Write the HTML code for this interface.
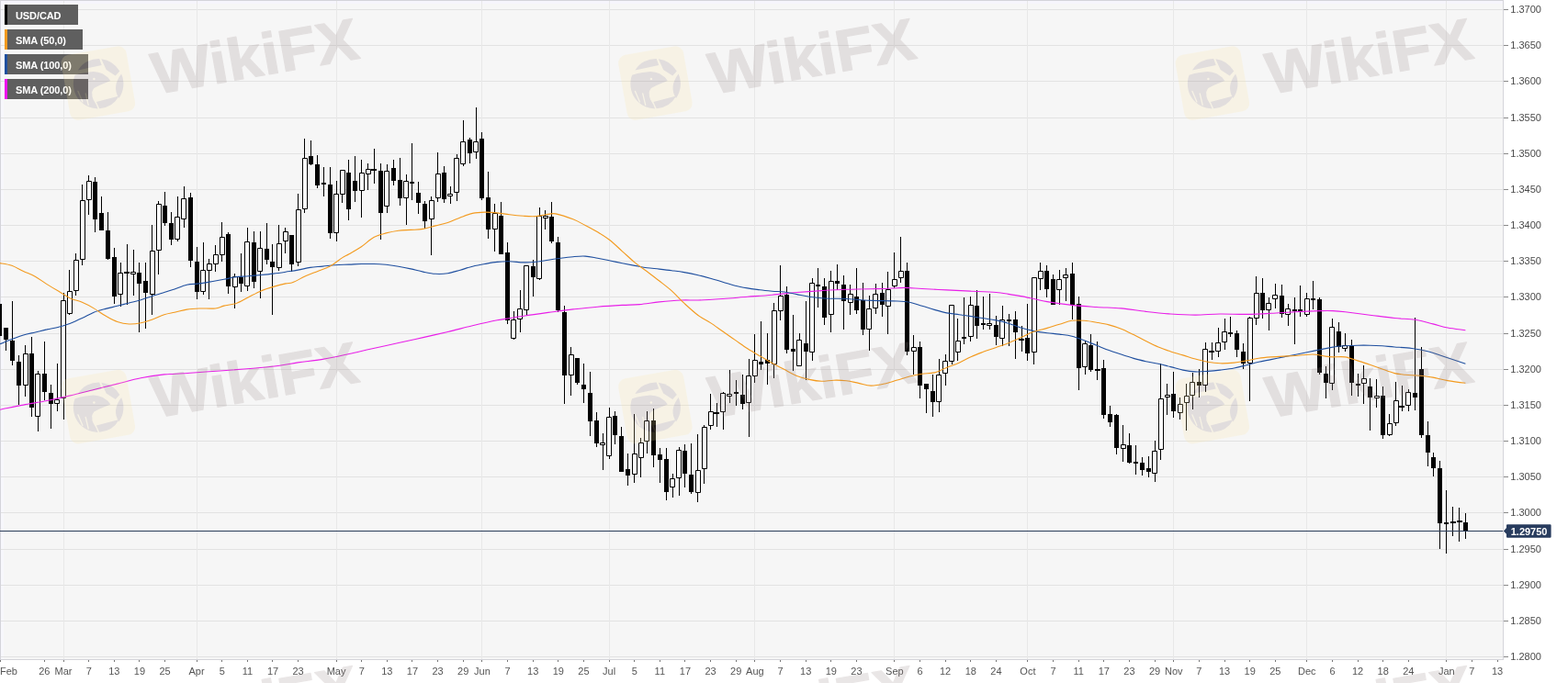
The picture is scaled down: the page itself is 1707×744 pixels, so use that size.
<!DOCTYPE html><html><head><meta charset="utf-8"><title>USD/CAD</title><style>
html,body{margin:0;padding:0;background:#fff;}
body{width:1707px;height:744px;overflow:hidden;position:relative;font-family:"Liberation Sans",Arial,sans-serif;}
svg{position:absolute;left:0;top:0;display:block;}
.lg{position:absolute;left:5px;height:22px;background:#5f5f5f;color:#fff;font:bold 11px/22px "Liberation Sans",Arial,sans-serif;padding:1px 0 0 12px;box-sizing:border-box;letter-spacing:-0.1px;}
.lg i{position:absolute;left:0;top:0;width:3px;height:22px;}
</style></head><body>
<svg width="1707" height="744" viewBox="0 0 1707 744">
<rect x="0" y="0" width="1707" height="744" fill="#ffffff"/>
<rect x="0" y="0" width="1636" height="718" fill="#f6f6f6"/>
<rect x="1" y="1" width="3" height="717" fill="#f7f7fc"/>
<rect x="1" y="1" width="1635" height="3" fill="#f6f5fc"/>
<path d="M0 10.5H1636M0 49.5H1636M0 88.5H1636M0 128.5H1636M0 167.5H1636M0 206.5H1636M0 245.5H1636M0 284.5H1636M0 323.5H1636M0 363.5H1636M0 402.5H1636M0 441.5H1636M0 480.5H1636M0 519.5H1636M0 558.5H1636M0 598.5H1636M0 637.5H1636M0 676.5H1636M0 715.5H1636" stroke="#e2e2e2" stroke-width="1" fill="none"/>
<path d="M69.5 0V718M214.5 0V718M366.5 0V718M524.5 0V718M663.5 0V718M821.5 0V718M973.5 0V718M1118.5 0V718M1277.5 0V718M1422.5 0V718M1574.5 0V718" stroke="#e8e8e8" stroke-width="1" fill="none"/>
<path d="M0 0.5H1636 M0.5 0V718 M1636.5 0V719 M0 718.5H1637" stroke="#d4d4da" stroke-width="1" fill="none"/>
<path d="M-1 313h1v53h-1zM6 357h1v25h-1zM13 328h1v70h-1zM20 387h1v54h-1zM27 376h1v56h-1zM34 367h1v87h-1zM41 404h1v66h-1zM48 372h1v64h-1zM55 419h1v48h-1zM62 396h1v52h-1zM69 319h1v138h-1zM75 294h1v49h-1zM82 276h1v46h-1zM89 201h1v88h-1zM96 191h1v43h-1zM103 193h1v60h-1zM110 214h1v37h-1zM117 231h1v52h-1zM124 270h1v61h-1zM131 286h1v48h-1zM138 266h1v66h-1zM145 272h1v50h-1zM151 286h1v76h-1zM158 286h1v72h-1zM165 245h1v98h-1zM172 219h1v80h-1zM179 209h1v37h-1zM186 231h1v36h-1zM193 214h1v49h-1zM200 203h1v45h-1zM207 210h1v81h-1zM214 269h1v57h-1zM221 264h1v57h-1zM227 282h1v44h-1zM234 267h1v29h-1zM241 242h1v43h-1zM248 253h1v67h-1zM255 298h1v38h-1zM262 276h1v42h-1zM269 248h1v69h-1zM276 252h1v62h-1zM283 252h1v73h-1zM290 243h1v45h-1zM296 266h1v77h-1zM303 245h1v50h-1zM310 248h1v28h-1zM317 256h1v40h-1zM324 211h1v79h-1zM331 151h1v81h-1zM338 153h1v27h-1zM345 169h1v36h-1zM352 182h1v32h-1zM359 182h1v78h-1zM366 197h1v66h-1zM372 185h1v36h-1zM379 174h1v66h-1zM386 170h1v50h-1zM393 174h1v63h-1zM400 178h1v29h-1zM407 162h1v38h-1zM414 178h1v83h-1zM421 179h1v53h-1zM428 174h1v28h-1zM435 172h1v52h-1zM442 190h1v55h-1zM448 156h1v62h-1zM455 198h1v35h-1zM462 219h1v30h-1zM469 214h1v64h-1zM476 166h1v54h-1zM483 181h1v40h-1zM490 203h1v19h-1zM497 168h1v51h-1zM504 131h1v50h-1zM511 150h1v28h-1zM518 117h1v56h-1zM524 144h1v74h-1zM531 187h1v73h-1zM538 222h1v52h-1zM545 220h1v57h-1zM552 264h1v89h-1zM559 339h1v31h-1zM566 316h1v46h-1zM573 289h1v55h-1zM580 283h1v40h-1zM587 226h1v79h-1zM593 229h1v21h-1zM600 220h1v45h-1zM607 258h1v82h-1zM614 333h1v107h-1zM621 378h1v53h-1zM628 390h1v29h-1zM635 396h1v43h-1zM642 405h1v70h-1zM649 449h1v38h-1zM656 472h1v40h-1zM663 444h1v56h-1zM669 448h1v36h-1zM676 465h1v49h-1zM683 494h1v35h-1zM690 451h1v75h-1zM697 477h1v43h-1zM704 448h1v46h-1zM711 445h1v64h-1zM718 488h1v38h-1zM725 488h1v57h-1zM732 516h1v26h-1zM739 487h1v53h-1zM745 484h1v47h-1zM752 483h1v55h-1zM759 473h1v74h-1zM766 463h1v64h-1zM773 429h1v39h-1zM780 439h1v26h-1zM787 427h1v41h-1zM794 403h1v36h-1zM801 414h1v28h-1zM808 408h1v38h-1zM815 391h1v85h-1zM821 364h1v53h-1zM828 350h1v53h-1zM835 363h1v56h-1zM842 330h1v82h-1zM849 289h1v60h-1zM856 312h1v73h-1zM863 343h1v61h-1zM870 363h1v36h-1zM877 328h1v86h-1zM884 303h1v90h-1zM890 292h1v43h-1zM897 303h1v51h-1zM904 295h1v67h-1zM911 288h1v28h-1zM918 300h1v59h-1zM925 310h1v33h-1zM932 292h1v50h-1zM939 308h1v57h-1zM946 322h1v60h-1zM953 309h1v33h-1zM960 308h1v37h-1zM966 296h1v68h-1zM973 275h1v39h-1zM980 258h1v50h-1zM987 286h1v101h-1zM994 365h1v43h-1zM1001 372h1v62h-1zM1008 418h1v32h-1zM1015 408h1v46h-1zM1022 391h1v58h-1zM1029 386h1v34h-1zM1036 332h1v65h-1zM1042 347h1v46h-1zM1049 324h1v51h-1zM1056 323h1v49h-1zM1063 316h1v53h-1zM1070 323h1v36h-1zM1077 320h1v39h-1zM1084 344h1v32h-1zM1091 333h1v44h-1zM1098 342h1v35h-1zM1105 339h1v52h-1zM1112 355h1v28h-1zM1118 331h1v62h-1zM1125 302h1v95h-1zM1132 286h1v30h-1zM1139 289h1v35h-1zM1146 299h1v33h-1zM1153 294h1v38h-1zM1160 292h1v36h-1zM1167 286h1v62h-1zM1174 323h1v102h-1zM1181 371h1v37h-1zM1187 364h1v41h-1zM1194 372h1v42h-1zM1201 392h1v64h-1zM1208 442h1v23h-1zM1215 451h1v44h-1zM1222 463h1v40h-1zM1229 472h1v33h-1zM1236 485h1v32h-1zM1243 498h1v20h-1zM1250 497h1v23h-1zM1257 480h1v45h-1zM1263 396h1v105h-1zM1270 418h1v34h-1zM1277 405h1v50h-1zM1284 433h1v24h-1zM1291 418h1v51h-1zM1298 406h1v40h-1zM1305 402h1v31h-1zM1312 373h1v54h-1zM1319 373h1v19h-1zM1326 357h1v32h-1zM1333 347h1v34h-1zM1339 345h1v22h-1zM1346 360h1v29h-1zM1353 374h1v28h-1zM1360 345h1v92h-1zM1367 301h1v53h-1zM1374 303h1v44h-1zM1381 324h1v36h-1zM1388 309h1v27h-1zM1395 310h1v36h-1zM1402 331h1v24h-1zM1409 324h1v51h-1zM1415 311h1v34h-1zM1422 319h1v26h-1zM1429 306h1v31h-1zM1436 324h1v84h-1zM1443 399h1v35h-1zM1450 347h1v78h-1zM1457 351h1v33h-1zM1464 363h1v20h-1zM1471 370h1v61h-1zM1478 407h1v25h-1zM1484 398h1v42h-1zM1491 412h1v57h-1zM1498 413h1v31h-1zM1505 421h1v57h-1zM1512 451h1v24h-1zM1519 416h1v48h-1zM1526 420h1v28h-1zM1533 424h1v24h-1zM1540 346h1v101h-1zM1547 378h1v99h-1zM1554 459h1v49h-1zM1560 493h1v26h-1zM1567 502h1v96h-1zM1574 534h1v69h-1zM1581 552h1v32h-1zM1588 553h1v37h-1zM1595 559h1v28h-1z" fill="#000"/>
<path d="M-3 331h5v35h-5zM4 357h5v13h-5zM11 371h5v22h-5zM18 394h5v26h-5zM32 385h5v59h-5zM46 407h5v20h-5zM53 428h5v12h-5zM101 198h5v41h-5zM108 232h5v19h-5zM115 251h5v31h-5zM122 280h5v43h-5zM135 296h6v2h-6zM149 297h5v12h-5zM156 306h5v13h-5zM177 224h5v19h-5zM184 243h5v18h-5zM205 215h5v69h-5zM212 285h5v33h-5zM246 255h5v57h-5zM260 302h5v7h-5zM274 264h5v43h-5zM288 271h5v12h-5zM294 285h5v6h-5zM315 256h5v32h-5zM336 170h5v9h-5zM343 179h5v23h-5zM350 199h5v2h-5zM357 201h5v53h-5zM377 188h5v40h-5zM384 197h5v11h-5zM404 184h6v2h-6zM412 186h5v46h-5zM426 183h5v14h-5zM433 196h5v20h-5zM446 198h5v2h-5zM453 210h5v11h-5zM460 222h5v19h-5zM481 188h5v29h-5zM509 152h5v15h-5zM522 151h5v65h-5zM529 215h5v35h-5zM543 235h5v42h-5zM550 275h5v74h-5zM578 290h5v12h-5zM598 236h5v27h-5zM605 264h5v74h-5zM612 340h5v69h-5zM626 390h5v27h-5zM633 419h5v5h-5zM640 428h5v31h-5zM647 458h5v25h-5zM667 453h5v21h-5zM674 475h5v39h-5zM681 511h5v7h-5zM709 458h5v38h-5zM716 495h5v6h-5zM723 500h5v36h-5zM743 491h5v25h-5zM750 517h5v19h-5zM777 449h6v2h-6zM799 427h5v2h-5zM806 430h5v10h-5zM826 394h5v3h-5zM833 392h5v4h-5zM854 321h5v60h-5zM861 380h5v3h-5zM875 374h5v9h-5zM888 310h5v2h-5zM895 312h5v34h-5zM909 306h5v3h-5zM916 310h5v18h-5zM930 323h5v15h-5zM937 327h5v32h-5zM958 319h5v13h-5zM985 295h5v88h-5zM999 378h5v42h-5zM1006 418h5v6h-5zM1013 426h5v12h-5zM1047 367h5v2h-5zM1061 333h5v22h-5zM1068 352h5v2h-5zM1082 354h5v13h-5zM1096 348h5v2h-5zM1103 348h5v14h-5zM1109 369h6v2h-6zM1116 368h5v17h-5zM1137 295h5v20h-5zM1144 304h5v28h-5zM1165 298h5v34h-5zM1172 331h5v70h-5zM1185 376h5v27h-5zM1192 402h6v2h-6zM1199 401h5v51h-5zM1206 451h5v9h-5zM1213 452h5v36h-5zM1227 485h5v19h-5zM1234 503h5v2h-5zM1241 504h5v8h-5zM1248 510h5v4h-5zM1275 429h5v19h-5zM1303 416h5v4h-5zM1316 382h6v2h-6zM1337 362h5v2h-5zM1344 363h5v18h-5zM1351 383h5v13h-5zM1372 319h5v19h-5zM1393 322h5v20h-5zM1407 337h5v2h-5zM1413 337h5v2h-5zM1427 325h5v2h-5zM1434 326h5v80h-5zM1441 407h5v10h-5zM1455 361h5v17h-5zM1469 377h5v40h-5zM1476 418h5v2h-5zM1489 421h5v12h-5zM1503 431h5v43h-5zM1523 442h6v2h-6zM1538 428h5v5h-5zM1545 402h5v72h-5zM1552 474h5v19h-5zM1558 498h5v12h-5zM1565 510h5v60h-5zM1572 569h5v2h-5zM1579 568h6v2h-6zM1586 567h6v2h-6zM1593 569h5v9h-5z" fill="#000"/>
<path d="M25.5 385.5h5v34h-5zM38.5 407.5h5v46h-5zM59.5 435.5h5v4h-5zM66.5 327.5h5v106h-5zM73.5 317.5h5v24h-5zM80.5 283.5h5v33h-5zM87.5 218.5h5v64h-5zM94.5 197.5h5v20h-5zM128.5 297.5h5v23h-5zM142.5 296.5h5v2h-5zM163.5 273.5h5v47h-5zM170.5 222.5h5v50h-5zM190.5 236.5h5v24h-5zM197.5 216.5h5v22h-5zM218.5 294.5h5v23h-5zM225.5 287.5h5v7h-5zM232.5 277.5h5v10h-5zM239.5 258.5h5v19h-5zM253.5 301.5h5v11h-5zM266.5 263.5h5v48h-5zM280.5 270.5h5v25h-5zM301.5 265.5h5v26h-5zM308.5 252.5h5v10h-5zM322.5 228.5h5v57h-5zM329.5 172.5h5v55h-5zM363.5 211.5h5v42h-5zM370.5 185.5h5v26h-5zM391.5 188.5h5v19h-5zM398.5 184.5h5v5h-5zM418.5 186.5h5v38h-5zM439.5 197.5h5v18h-5zM467.5 218.5h5v20h-5zM474.5 189.5h5v26h-5zM487.5 211.5h5v2h-5zM494.5 172.5h5v37h-5zM501.5 154.5h5v24h-5zM515.5 154.5h5v11h-5zM536.5 232.5h5v17h-5zM556.5 348.5h5v20h-5zM563.5 336.5h5v11h-5zM570.5 289.5h5v48h-5zM584.5 235.5h5v68h-5zM591.5 235.5h5v2h-5zM619.5 386.5h5v22h-5zM653.5 482.5h5v2h-5zM660.5 454.5h5v42h-5zM688.5 494.5h5v22h-5zM695.5 482.5h5v16h-5zM701.5 458.5h5v22h-5zM729.5 521.5h5v9h-5zM736.5 490.5h5v30h-5zM757.5 512.5h5v24h-5zM764.5 465.5h5v45h-5zM771.5 448.5h5v15h-5zM784.5 428.5h5v20h-5zM791.5 429.5h5v2h-5zM812.5 409.5h5v29h-5zM819.5 392.5h5v17h-5zM840.5 338.5h5v58h-5zM847.5 322.5h5v16h-5zM867.5 370.5h5v28h-5zM881.5 308.5h5v75h-5zM902.5 306.5h5v36h-5zM923.5 320.5h5v9h-5zM943.5 336.5h5v22h-5zM950.5 320.5h5v15h-5zM964.5 315.5h5v18h-5zM971.5 304.5h5v7h-5zM978.5 295.5h5v7h-5zM992.5 378.5h5v4h-5zM1019.5 408.5h5v29h-5zM1026.5 393.5h5v13h-5zM1033.5 332.5h5v61h-5zM1040.5 371.5h5v12h-5zM1054.5 332.5h5v34h-5zM1074.5 352.5h5v2h-5zM1088.5 348.5h5v20h-5zM1123.5 302.5h5v81h-5zM1130.5 295.5h5v8h-5zM1150.5 304.5h5v11h-5zM1157.5 299.5h5v3h-5zM1178.5 374.5h5v25h-5zM1220.5 484.5h5v4h-5zM1254.5 491.5h5v24h-5zM1261.5 434.5h5v55h-5zM1268.5 430.5h5v2h-5zM1282.5 440.5h5v9h-5zM1289.5 431.5h5v7h-5zM1295.5 416.5h5v14h-5zM1309.5 380.5h5v39h-5zM1323.5 373.5h5v9h-5zM1330.5 361.5h5v11h-5zM1358.5 346.5h5v49h-5zM1365.5 319.5h5v27h-5zM1378.5 330.5h5v7h-5zM1385.5 321.5h5v4h-5zM1399.5 336.5h5v6h-5zM1420.5 325.5h5v17h-5zM1447.5 356.5h5v61h-5zM1461.5 376.5h5v3h-5zM1482.5 412.5h5v5h-5zM1496.5 431.5h5v2h-5zM1510.5 461.5h5v12h-5zM1517.5 436.5h5v24h-5zM1530.5 427.5h5v14h-5z" fill="#fff" stroke="#000" stroke-width="1"/>
<path d="M0.0 446.2C4.2 445.4 17.0 442.7 25.5 441.1C34.0 439.5 42.6 438.2 51.1 436.5C59.6 434.8 68.1 432.9 76.6 430.9C85.1 428.9 93.7 426.6 102.2 424.5C110.7 422.4 119.2 420.2 127.7 418.1C136.2 416.0 144.8 413.5 153.3 411.8C161.8 410.1 171.0 408.8 178.8 407.9C186.6 407.0 181.6 408.0 200.0 406.7C218.4 405.4 268.8 402.0 289.5 400.0C310.2 398.0 314.1 396.3 324.4 394.9C334.7 393.5 342.0 393.0 351.3 391.4C360.6 389.8 371.2 387.4 380.0 385.5C388.8 383.6 395.2 382.0 404.2 380.0C413.2 378.0 424.4 375.6 433.8 373.5C443.2 371.4 451.7 369.6 460.6 367.6C469.6 365.6 478.5 363.6 487.5 361.5C496.5 359.4 505.4 356.8 514.4 354.7C523.4 352.6 534.6 350.1 541.3 348.8C548.0 347.5 549.9 347.5 554.7 346.7C559.5 345.9 563.0 345.2 570.0 344.2C577.0 343.1 587.9 341.6 596.9 340.4C605.9 339.2 614.8 337.9 623.8 336.9C632.8 335.9 641.6 334.9 650.6 334.2C659.6 333.4 669.9 332.8 677.5 332.4C685.1 332.0 689.6 332.2 696.3 331.6C703.0 331.0 710.2 329.7 717.8 328.9C725.4 328.1 735.0 327.3 742.0 327.0C749.0 326.7 752.5 327.2 760.0 327.0C767.5 326.8 777.9 326.1 786.9 325.5C795.9 324.9 804.8 324.0 813.8 323.3C822.8 322.6 831.6 322.0 840.6 321.2C849.6 320.4 858.5 319.3 867.5 318.5C876.5 317.7 885.4 317.1 894.4 316.6C903.4 316.1 912.3 315.6 921.3 315.3C930.3 315.0 941.2 314.8 948.2 314.7C955.2 314.6 957.3 314.7 963.4 314.5C969.5 314.3 978.3 313.4 985.0 313.4C991.7 313.4 996.2 314.1 1003.8 314.5C1011.4 314.9 1021.6 315.4 1030.6 315.9C1039.5 316.3 1048.5 316.8 1057.5 317.2C1066.5 317.6 1077.7 318.0 1084.4 318.5C1091.1 319.0 1093.3 319.7 1097.8 320.4C1102.3 321.1 1106.8 321.8 1111.3 322.6C1115.8 323.4 1119.9 324.3 1124.7 325.3C1129.5 326.3 1133.0 327.4 1140.0 328.6C1147.0 329.8 1157.9 331.4 1166.9 332.4C1175.9 333.4 1184.8 333.9 1193.8 334.5C1202.8 335.1 1211.6 335.1 1220.6 335.9C1229.5 336.7 1238.5 338.4 1247.5 339.4C1256.5 340.4 1265.4 341.4 1274.4 342.0C1283.4 342.6 1292.3 343.1 1301.3 343.1C1310.3 343.1 1318.9 342.1 1328.2 342.0C1337.5 341.9 1347.6 342.5 1356.9 342.4C1366.2 342.3 1374.8 341.8 1383.8 341.3C1392.8 340.9 1401.6 340.1 1410.6 339.7C1419.5 339.2 1430.8 338.8 1437.5 338.6C1444.2 338.4 1446.5 338.4 1451.0 338.6C1455.5 338.8 1457.7 338.9 1464.4 339.7C1471.1 340.5 1482.3 342.1 1491.3 343.2C1500.3 344.3 1510.0 345.6 1518.2 346.5C1526.4 347.4 1533.6 347.2 1540.6 348.3C1547.6 349.4 1554.1 351.4 1560.0 352.9C1565.9 354.3 1570.1 355.9 1576.0 357.0C1581.9 358.1 1592.2 359.2 1595.4 359.7" stroke="#e81ee8" stroke-width="1.1" fill="none" stroke-linejoin="round"/>
<path d="M0.0 374.7C2.1 373.9 8.6 371.2 12.8 369.6C17.1 368.0 21.2 366.3 25.5 365.0C29.8 363.7 34.0 363.0 38.3 362.0C42.6 361.0 46.8 359.8 51.1 358.9C55.4 357.9 59.6 357.4 63.9 356.3C68.1 355.2 72.3 353.8 76.6 352.2C80.8 350.6 85.1 348.6 89.4 346.6C93.7 344.6 98.0 341.9 102.2 340.2C106.5 338.5 110.7 337.5 114.9 336.4C119.2 335.2 123.4 334.4 127.7 333.3C132.0 332.2 136.2 331.1 140.5 330.0C144.8 328.9 149.1 328.0 153.3 326.7C157.6 325.4 161.8 323.8 166.0 322.4C170.2 321.0 174.8 319.7 178.8 318.5C182.8 317.3 185.9 316.4 190.0 315.0C194.1 313.6 198.9 311.2 203.4 310.2C207.9 309.2 212.4 309.5 216.9 308.9C221.4 308.3 225.8 307.5 230.3 306.7C234.8 305.9 239.3 305.1 243.8 304.3C248.3 303.5 252.7 302.2 257.2 301.6C261.7 301.0 266.1 301.2 270.6 300.8C275.1 300.4 279.6 299.9 284.1 299.5C288.6 299.1 293.0 298.7 297.5 298.1C302.0 297.6 306.5 296.9 311.0 296.2C315.5 295.5 319.9 294.9 324.4 294.1C328.9 293.3 333.3 292.1 337.8 291.4C342.3 290.7 346.8 290.6 351.3 290.1C355.8 289.7 359.9 289.0 364.7 288.7C369.5 288.4 375.2 288.3 380.0 288.1C384.8 287.9 388.9 287.6 393.4 287.5C397.9 287.4 402.4 287.4 406.9 287.5C411.4 287.6 415.8 287.9 420.3 288.3C424.8 288.8 429.3 289.4 433.8 290.2C438.3 291.0 442.7 291.9 447.2 292.9C451.7 293.9 456.1 295.2 460.6 296.1C465.1 297.0 469.6 298.0 474.1 298.3C478.6 298.6 483.0 298.4 487.5 297.7C492.0 297.0 496.5 295.4 501.0 294.2C505.5 292.9 509.9 291.3 514.4 290.2C518.9 289.1 523.3 288.3 527.8 287.5C532.3 286.7 536.8 285.8 541.3 285.4C545.8 284.9 549.9 284.7 554.7 284.8C559.5 284.9 565.2 285.8 570.0 285.9C574.8 286.0 578.9 285.8 583.4 285.3C587.9 284.9 592.4 283.9 596.9 283.2C601.4 282.5 605.8 281.9 610.3 281.3C614.8 280.7 619.3 280.1 623.8 279.7C628.3 279.3 632.7 278.8 637.2 279.1C641.7 279.4 646.1 280.5 650.6 281.3C655.1 282.1 659.6 283.1 664.1 284.0C668.6 284.9 673.0 285.8 677.5 286.7C682.0 287.6 686.5 288.5 691.0 289.4C695.5 290.2 699.9 291.2 704.4 291.8C708.9 292.4 713.3 292.6 717.8 293.1C722.3 293.6 726.8 294.1 731.3 294.7C735.8 295.3 739.9 295.8 744.7 296.6C749.5 297.4 755.2 298.6 760.0 299.7C764.8 300.8 768.9 301.9 773.4 303.2C777.9 304.4 782.4 305.9 786.9 307.2C791.4 308.5 795.8 310.1 800.3 311.2C804.8 312.3 809.3 313.1 813.8 313.9C818.3 314.7 822.7 315.2 827.2 315.8C831.7 316.4 836.1 316.8 840.6 317.2C845.1 317.6 849.6 317.4 854.1 318.0C858.6 318.6 863.0 319.7 867.5 320.6C872.0 321.5 876.5 322.6 881.0 323.3C885.5 324.0 889.9 324.4 894.4 324.7C898.9 325.0 903.3 325.1 907.8 325.2C912.3 325.3 916.8 325.3 921.3 325.5C925.8 325.7 929.9 326.3 934.7 326.6C939.5 326.9 943.0 327.2 950.0 327.4C957.0 327.6 970.2 327.7 976.9 328.0C983.6 328.3 985.8 328.4 990.3 329.3C994.8 330.2 999.3 332.0 1003.8 333.3C1008.3 334.6 1012.7 336.1 1017.2 337.4C1021.7 338.7 1026.1 340.0 1030.6 340.9C1035.1 341.8 1039.6 342.1 1044.1 342.7C1048.6 343.3 1053.0 343.9 1057.5 344.6C1062.0 345.3 1066.5 346.1 1071.0 346.8C1075.5 347.5 1079.9 348.0 1084.4 348.9C1088.9 349.8 1093.3 350.8 1097.8 352.2C1102.3 353.6 1106.8 355.6 1111.3 357.0C1115.8 358.4 1119.9 359.4 1124.7 360.4C1129.5 361.3 1135.2 362.1 1140.0 362.7C1144.8 363.3 1148.9 363.5 1153.4 364.1C1157.9 364.7 1162.4 365.1 1166.9 366.2C1171.4 367.3 1175.8 369.1 1180.3 370.8C1184.8 372.5 1189.3 374.4 1193.8 376.2C1198.3 378.0 1202.7 380.0 1207.2 381.6C1211.7 383.2 1216.1 384.6 1220.6 386.1C1225.1 387.6 1229.6 389.1 1234.1 390.4C1238.6 391.7 1243.0 392.7 1247.5 393.7C1252.0 394.7 1256.5 395.3 1261.0 396.3C1265.5 397.3 1269.9 398.5 1274.4 399.6C1278.9 400.7 1283.3 402.2 1287.8 403.1C1292.3 404.0 1296.8 404.7 1301.3 404.9C1305.8 405.1 1310.2 404.7 1314.7 404.4C1319.2 404.1 1323.4 403.7 1328.2 403.1C1333.0 402.5 1338.6 401.9 1343.4 401.0C1348.2 400.1 1352.4 398.8 1356.9 397.7C1361.4 396.6 1365.8 395.2 1370.3 394.2C1374.8 393.2 1379.3 392.5 1383.8 391.6C1388.3 390.7 1392.7 389.8 1397.2 388.9C1401.7 388.0 1406.1 387.1 1410.6 386.2C1415.1 385.3 1419.6 384.4 1424.1 383.5C1428.6 382.6 1433.0 381.7 1437.5 380.8C1442.0 379.9 1446.5 378.8 1451.0 378.1C1455.5 377.4 1459.9 377.1 1464.4 376.8C1468.9 376.5 1473.3 376.3 1477.8 376.2C1482.3 376.1 1486.8 376.1 1491.3 376.2C1495.8 376.3 1500.2 376.5 1504.7 376.8C1509.2 377.1 1512.8 377.6 1518.2 378.0C1523.6 378.4 1530.9 378.7 1537.1 379.5C1543.3 380.3 1549.7 381.5 1555.4 383.0C1561.1 384.5 1564.7 386.1 1571.4 388.3C1578.1 390.5 1591.4 395.0 1595.4 396.3" stroke="#1f4f9f" stroke-width="1.1" fill="none" stroke-linejoin="round"/>
<path d="M0.0 286.6C2.1 287.0 8.6 287.7 12.8 289.2C17.1 290.7 21.2 293.5 25.5 295.5C29.8 297.5 34.0 298.8 38.3 301.2C42.6 303.6 46.8 306.9 51.1 309.6C55.4 312.3 59.6 314.8 63.9 317.3C68.1 319.9 72.3 322.9 76.6 324.9C80.8 326.9 85.1 327.5 89.4 329.3C93.7 331.1 98.0 333.4 102.2 335.9C106.5 338.4 110.7 341.7 114.9 344.1C119.2 346.5 123.4 349.0 127.7 350.5C132.0 352.0 136.2 352.8 140.5 353.0C144.8 353.2 149.1 352.6 153.3 351.7C157.6 350.8 161.8 349.4 166.0 347.9C170.2 346.4 174.8 344.1 178.8 342.8C182.8 341.5 185.9 341.2 190.0 340.3C194.1 339.4 198.9 337.8 203.4 337.1C207.9 336.4 211.7 336.2 216.9 336.0C222.1 335.8 229.9 336.5 234.4 336.0C238.9 335.5 240.0 334.0 243.8 333.1C247.6 332.2 252.7 332.0 257.2 330.4C261.7 328.8 266.1 325.9 270.6 323.7C275.1 321.4 279.6 318.8 284.1 316.9C288.6 315.0 293.0 313.7 297.5 312.4C302.0 311.1 307.4 309.7 311.0 308.9C314.6 308.1 315.4 308.9 319.0 307.5C322.6 306.1 328.0 302.8 332.5 300.8C337.0 298.8 341.4 297.2 345.9 295.4C350.4 293.6 354.9 292.5 359.4 290.0C363.9 287.5 369.4 282.8 372.8 280.6C376.2 278.4 376.6 278.8 380.0 276.8C383.4 274.8 388.9 271.8 393.4 268.7C397.9 265.6 402.4 261.0 406.9 258.5C411.4 256.0 415.8 255.1 420.3 253.9C424.8 252.7 429.3 251.8 433.8 251.2C438.3 250.6 442.7 250.7 447.2 250.4C451.7 250.1 456.1 250.2 460.6 249.4C465.1 248.7 469.6 247.1 474.1 245.9C478.6 244.7 483.0 243.9 487.5 242.4C492.0 240.9 496.5 238.7 501.0 237.0C505.5 235.3 509.9 233.4 514.4 232.4C518.9 231.4 523.3 231.2 527.8 231.1C532.3 231.0 536.8 231.4 541.3 231.9C545.8 232.4 549.9 233.2 554.7 233.8C559.5 234.4 565.2 235.0 570.0 235.3C574.8 235.6 578.9 235.9 583.4 235.6C587.9 235.3 593.3 233.8 596.9 233.4C600.5 233.0 600.4 232.0 604.9 232.9C609.4 233.8 618.4 236.7 623.8 238.8C629.2 240.9 632.7 243.2 637.2 245.5C641.7 247.8 646.1 250.1 650.6 252.8C655.1 255.5 659.6 258.2 664.1 261.7C668.6 265.2 673.0 269.8 677.5 273.8C682.0 277.8 686.5 282.2 691.0 285.9C695.5 289.6 699.9 292.4 704.4 295.8C708.9 299.2 713.3 302.5 717.8 306.0C722.3 309.5 726.8 312.8 731.3 316.8C735.8 320.8 739.9 325.8 744.7 330.2C749.5 334.6 755.2 339.9 760.0 343.5C764.8 347.1 768.9 348.7 773.4 351.6C777.9 354.5 782.4 357.9 786.9 361.0C791.4 364.1 795.8 367.3 800.3 370.4C804.8 373.5 809.3 376.9 813.8 379.8C818.3 382.7 822.7 385.2 827.2 387.8C831.7 390.4 836.1 392.9 840.6 395.4C845.1 397.9 849.6 400.3 854.1 402.6C858.6 404.9 863.0 407.6 867.5 409.4C872.0 411.2 876.5 412.4 881.0 413.4C885.5 414.4 889.9 415.2 894.4 415.3C898.9 415.4 903.3 414.3 907.8 414.2C912.3 414.1 916.8 414.2 921.3 414.7C925.8 415.2 930.2 416.5 934.7 417.4C939.2 418.3 943.4 420.0 948.2 420.1C953.0 420.2 958.6 419.0 963.4 418.0C968.2 417.0 972.4 415.3 976.9 414.0C981.4 412.7 985.8 411.1 990.3 410.0C994.8 408.9 999.3 408.0 1003.8 407.3C1008.3 406.6 1012.7 407.0 1017.2 405.9C1021.7 404.8 1026.1 402.3 1030.6 400.5C1035.1 398.7 1039.6 397.2 1044.1 395.2C1048.6 393.2 1053.0 390.4 1057.5 388.4C1062.0 386.4 1066.5 384.8 1071.0 383.1C1075.5 381.5 1079.9 380.1 1084.4 378.5C1088.9 376.9 1093.3 375.5 1097.8 373.7C1102.3 371.9 1106.8 369.7 1111.3 367.7C1115.8 365.7 1119.9 363.3 1124.7 361.6C1129.5 359.9 1135.2 358.8 1140.0 357.4C1144.8 356.0 1148.9 354.6 1153.4 353.3C1157.9 352.0 1162.4 350.0 1166.9 349.3C1171.4 348.6 1175.8 349.0 1180.3 349.3C1184.8 349.6 1189.3 350.4 1193.8 351.2C1198.3 352.0 1202.7 352.7 1207.2 353.9C1211.7 355.1 1216.1 356.4 1220.6 358.2C1225.1 360.0 1229.6 362.4 1234.1 364.6C1238.6 366.8 1243.0 369.4 1247.5 371.6C1252.0 373.9 1256.5 376.2 1261.0 378.1C1265.5 380.0 1269.9 381.4 1274.4 382.9C1278.9 384.4 1283.3 385.5 1287.8 386.9C1292.3 388.2 1296.8 389.8 1301.3 391.0C1305.8 392.2 1310.2 393.4 1314.7 394.2C1319.2 395.0 1323.4 395.6 1328.2 395.8C1333.0 396.0 1338.6 395.6 1343.4 395.1C1348.2 394.6 1352.4 393.7 1356.9 392.9C1361.4 392.1 1365.8 390.9 1370.3 390.2C1374.8 389.5 1379.3 389.2 1383.8 388.9C1388.3 388.5 1392.7 388.3 1397.2 388.1C1401.7 387.9 1406.1 387.8 1410.6 387.5C1415.1 387.2 1420.5 386.4 1424.1 386.2C1427.7 386.0 1429.1 385.9 1432.2 386.2C1435.3 386.5 1439.8 387.7 1442.9 388.1C1446.0 388.6 1447.4 388.8 1451.0 388.9C1454.6 389.0 1459.9 388.2 1464.4 388.9C1468.9 389.6 1473.3 391.5 1477.8 392.9C1482.3 394.3 1486.8 395.7 1491.3 397.2C1495.8 398.7 1500.2 400.4 1504.7 402.0C1509.2 403.6 1514.0 405.6 1518.2 406.6C1522.4 407.6 1526.5 407.8 1530.0 408.2C1533.5 408.6 1536.3 408.7 1539.4 408.9C1542.5 409.1 1545.2 409.1 1548.6 409.5C1552.0 409.9 1555.4 410.2 1560.0 411.1C1564.6 412.0 1570.1 413.6 1576.0 414.6C1581.9 415.6 1592.2 416.9 1595.4 417.3" stroke="#f39a1e" stroke-width="1.1" fill="none" stroke-linejoin="round"/>
<path d="M0 578.5H1636" stroke="#2b3d5a" stroke-width="1"/>
<path d="M1637 10.5H1642M1637 49.5H1642M1637 88.5H1642M1637 128.5H1642M1637 167.5H1642M1637 206.5H1642M1637 245.5H1642M1637 284.5H1642M1637 323.5H1642M1637 363.5H1642M1637 402.5H1642M1637 441.5H1642M1637 480.5H1642M1637 519.5H1642M1637 558.5H1642M1637 598.5H1642M1637 637.5H1642M1637 676.5H1642M1637 715.5H1642" stroke="#888" stroke-width="1"/>
<g font-family="Liberation Sans, Arial, sans-serif" font-size="11" fill="#4a4a4a"><text x="1644.3" y="13.8">1.3700</text><text x="1644.3" y="52.8">1.3650</text><text x="1644.3" y="91.8">1.3600</text><text x="1644.3" y="131.8">1.3550</text><text x="1644.3" y="170.8">1.3500</text><text x="1644.3" y="209.8">1.3450</text><text x="1644.3" y="248.8">1.3400</text><text x="1644.3" y="287.8">1.3350</text><text x="1644.3" y="326.8">1.3300</text><text x="1644.3" y="366.8">1.3250</text><text x="1644.3" y="405.8">1.3200</text><text x="1644.3" y="444.8">1.3150</text><text x="1644.3" y="483.8">1.3100</text><text x="1644.3" y="522.8">1.3050</text><text x="1644.3" y="561.8">1.3000</text><text x="1644.3" y="601.8">1.2950</text><text x="1644.3" y="640.8">1.2900</text><text x="1644.3" y="679.8">1.2850</text><text x="1644.3" y="718.8">1.2800</text></g>
<path d="M0.5 719V721M48.5 719V721M69.5 719V721M96.5 719V721M124.5 719V721M151.5 719V721M179.5 719V721M214.5 719V721M241.5 719V721M269.5 719V721M296.5 719V721M324.5 719V721M366.5 719V721M393.5 719V721M421.5 719V721M448.5 719V721M476.5 719V721M504.5 719V721M524.5 719V721M552.5 719V721M580.5 719V721M607.5 719V721M635.5 719V721M663.5 719V721M690.5 719V721M718.5 719V721M745.5 719V721M773.5 719V721M801.5 719V721M821.5 719V721M849.5 719V721M877.5 719V721M904.5 719V721M932.5 719V721M973.5 719V721M1001.5 719V721M1029.5 719V721M1056.5 719V721M1084.5 719V721M1118.5 719V721M1146.5 719V721M1174.5 719V721M1201.5 719V721M1229.5 719V721M1257.5 719V721M1277.5 719V721M1305.5 719V721M1333.5 719V721M1360.5 719V721M1388.5 719V721M1422.5 719V721M1450.5 719V721M1478.5 719V721M1505.5 719V721M1533.5 719V721M1574.5 719V721M1602.5 719V721M1630.5 719V721" stroke="#777" stroke-width="1"/>
<g font-family="Liberation Sans, Arial, sans-serif" font-size="11" fill="#555"><text x="0.0" y="735" text-anchor="start">Feb</text><text x="48.3" y="735" text-anchor="middle">26</text><text x="69.0" y="735" text-anchor="middle">Mar</text><text x="96.7" y="735" text-anchor="middle">7</text><text x="124.3" y="735" text-anchor="middle">13</text><text x="151.9" y="735" text-anchor="middle">19</text><text x="179.6" y="735" text-anchor="middle">25</text><text x="214.1" y="735" text-anchor="middle">Apr</text><text x="241.7" y="735" text-anchor="middle">5</text><text x="269.4" y="735" text-anchor="middle">11</text><text x="297.0" y="735" text-anchor="middle">17</text><text x="324.6" y="735" text-anchor="middle">23</text><text x="366.1" y="735" text-anchor="middle">May</text><text x="393.7" y="735" text-anchor="middle">7</text><text x="421.3" y="735" text-anchor="middle">13</text><text x="448.9" y="735" text-anchor="middle">17</text><text x="476.6" y="735" text-anchor="middle">23</text><text x="504.2" y="735" text-anchor="middle">29</text><text x="524.9" y="735" text-anchor="middle">Jun</text><text x="552.5" y="735" text-anchor="middle">7</text><text x="580.2" y="735" text-anchor="middle">13</text><text x="607.8" y="735" text-anchor="middle">19</text><text x="635.4" y="735" text-anchor="middle">25</text><text x="663.1" y="735" text-anchor="middle">Jul</text><text x="690.7" y="735" text-anchor="middle">5</text><text x="718.3" y="735" text-anchor="middle">11</text><text x="745.9" y="735" text-anchor="middle">17</text><text x="773.6" y="735" text-anchor="middle">23</text><text x="801.2" y="735" text-anchor="middle">29</text><text x="821.9" y="735" text-anchor="middle">Aug</text><text x="849.5" y="735" text-anchor="middle">7</text><text x="877.2" y="735" text-anchor="middle">13</text><text x="904.8" y="735" text-anchor="middle">19</text><text x="932.4" y="735" text-anchor="middle">23</text><text x="973.9" y="735" text-anchor="middle">Sep</text><text x="1001.5" y="735" text-anchor="middle">6</text><text x="1029.1" y="735" text-anchor="middle">12</text><text x="1056.8" y="735" text-anchor="middle">18</text><text x="1084.4" y="735" text-anchor="middle">24</text><text x="1118.9" y="735" text-anchor="middle">Oct</text><text x="1146.5" y="735" text-anchor="middle">7</text><text x="1174.2" y="735" text-anchor="middle">11</text><text x="1201.8" y="735" text-anchor="middle">17</text><text x="1229.4" y="735" text-anchor="middle">23</text><text x="1257.1" y="735" text-anchor="middle">29</text><text x="1277.8" y="735" text-anchor="middle">Nov</text><text x="1305.4" y="735" text-anchor="middle">7</text><text x="1333.0" y="735" text-anchor="middle">13</text><text x="1360.7" y="735" text-anchor="middle">19</text><text x="1388.3" y="735" text-anchor="middle">25</text><text x="1422.8" y="735" text-anchor="middle">Dec</text><text x="1450.5" y="735" text-anchor="middle">6</text><text x="1478.1" y="735" text-anchor="middle">12</text><text x="1505.7" y="735" text-anchor="middle">18</text><text x="1533.3" y="735" text-anchor="middle">24</text><text x="1574.8" y="735" text-anchor="middle">Jan</text><text x="1602.4" y="735" text-anchor="middle">7</text><text x="1630.0" y="735" text-anchor="middle">13</text></g>
<path d="M1636.8 578.4L1640 575V572.2Q1640 571.2 1641 571.2H1687.6Q1688.6 571.2 1688.6 572.2V584.8Q1688.6 585.8 1687.6 585.8H1641Q1640 585.8 1640 584.8V581.8Z" fill="#283c5e"/>
<text x="1664.6" y="582.6" text-anchor="middle" font-family="Liberation Sans, Arial, sans-serif" font-size="11" font-weight="bold" fill="#fff">1.29750</text>
</svg>
<div class="lg" style="top:5px;width:80px"><i style="background:#000"></i>USD/CAD</div>
<div class="lg" style="top:32px;width:85px"><i style="background:#f39a1e"></i>SMA (50,0)</div>
<div class="lg" style="top:59px;width:91px"><i style="background:#1f4f9f"></i>SMA (100,0)</div>
<div class="lg" style="top:86px;width:91px"><i style="background:#ee11ee"></i>SMA (200,0)</div>
<svg width="1707" height="744" viewBox="0 0 1707 744" style="pointer-events:none">
<g transform="translate(106.9 90.6)" opacity="0.2"><rect x="-36" y="-36" width="72" height="72" rx="9" fill="#fbe7a6" transform="rotate(-10)"/><g transform="translate(0.5 0.8)" fill="#927b7b"><path d="M-22.5 -15 A27 27 0 0 1 0.8 -27.5 L3.3 -20.4 Z"/><path d="M2.9 -27.2 A27 27 0 0 1 22.9 -13.8 L18.3 -8.8 L8.3 -15.4 Z"/><path d="M24.7 -11 A27 27 0 0 1 22.1 15.5 Q14 3 24.7 -11 Z"/><path d="M-2.5 19.6 L22.3 13.2 A26.5 26.5 0 0 1 0.8 26.9 Z"/><path d="M-25.8 -9.6 Q-20 -12 -14.2 -12.5 L-5.8 -13.3 Q0 -13 4.2 -11.2 L10 -7.1 L12.9 -3.3 L6.7 -0.8 L0.8 1.7 L-5 4.6 Q-8 9 -7.1 10.4 Q-7.5 14 -5.8 17.1 L-2.5 22.9 L-0.8 27 A27 27 0 0 1 -25.8 -9.6 Z"/></g><path transform="translate(0.5 0.8)" d="M-22.5 7.9 L-17.5 19.6 M-14.2 10.4 L-11.2 22.9" stroke="#fbe7a6" fill="none" stroke-linecap="round" stroke-width="1.3"/><circle cx="-4.5" cy="-4.6" r="1.2" fill="#fbe7a6"/><text transform="rotate(-10)" x="59.5" y="22.8" font-family="Liberation Sans, Arial, sans-serif" font-weight="bold" font-size="64" fill="#978686" stroke="#978686" stroke-width="1.2" stroke-linejoin="round" textLength="227" lengthAdjust="spacingAndGlyphs">WikiFX</text></g><g transform="translate(713.4 90.6)" opacity="0.2"><rect x="-36" y="-36" width="72" height="72" rx="9" fill="#fbe7a6" transform="rotate(-10)"/><g transform="translate(0.5 0.8)" fill="#927b7b"><path d="M-22.5 -15 A27 27 0 0 1 0.8 -27.5 L3.3 -20.4 Z"/><path d="M2.9 -27.2 A27 27 0 0 1 22.9 -13.8 L18.3 -8.8 L8.3 -15.4 Z"/><path d="M24.7 -11 A27 27 0 0 1 22.1 15.5 Q14 3 24.7 -11 Z"/><path d="M-2.5 19.6 L22.3 13.2 A26.5 26.5 0 0 1 0.8 26.9 Z"/><path d="M-25.8 -9.6 Q-20 -12 -14.2 -12.5 L-5.8 -13.3 Q0 -13 4.2 -11.2 L10 -7.1 L12.9 -3.3 L6.7 -0.8 L0.8 1.7 L-5 4.6 Q-8 9 -7.1 10.4 Q-7.5 14 -5.8 17.1 L-2.5 22.9 L-0.8 27 A27 27 0 0 1 -25.8 -9.6 Z"/></g><path transform="translate(0.5 0.8)" d="M-22.5 7.9 L-17.5 19.6 M-14.2 10.4 L-11.2 22.9" stroke="#fbe7a6" fill="none" stroke-linecap="round" stroke-width="1.3"/><circle cx="-4.5" cy="-4.6" r="1.2" fill="#fbe7a6"/><text transform="rotate(-10)" x="59.5" y="22.8" font-family="Liberation Sans, Arial, sans-serif" font-weight="bold" font-size="64" fill="#978686" stroke="#978686" stroke-width="1.2" stroke-linejoin="round" textLength="227" lengthAdjust="spacingAndGlyphs">WikiFX</text></g><g transform="translate(1319.9 90.6)" opacity="0.2"><rect x="-36" y="-36" width="72" height="72" rx="9" fill="#fbe7a6" transform="rotate(-10)"/><g transform="translate(0.5 0.8)" fill="#927b7b"><path d="M-22.5 -15 A27 27 0 0 1 0.8 -27.5 L3.3 -20.4 Z"/><path d="M2.9 -27.2 A27 27 0 0 1 22.9 -13.8 L18.3 -8.8 L8.3 -15.4 Z"/><path d="M24.7 -11 A27 27 0 0 1 22.1 15.5 Q14 3 24.7 -11 Z"/><path d="M-2.5 19.6 L22.3 13.2 A26.5 26.5 0 0 1 0.8 26.9 Z"/><path d="M-25.8 -9.6 Q-20 -12 -14.2 -12.5 L-5.8 -13.3 Q0 -13 4.2 -11.2 L10 -7.1 L12.9 -3.3 L6.7 -0.8 L0.8 1.7 L-5 4.6 Q-8 9 -7.1 10.4 Q-7.5 14 -5.8 17.1 L-2.5 22.9 L-0.8 27 A27 27 0 0 1 -25.8 -9.6 Z"/></g><path transform="translate(0.5 0.8)" d="M-22.5 7.9 L-17.5 19.6 M-14.2 10.4 L-11.2 22.9" stroke="#fbe7a6" fill="none" stroke-linecap="round" stroke-width="1.3"/><circle cx="-4.5" cy="-4.6" r="1.2" fill="#fbe7a6"/><text transform="rotate(-10)" x="59.5" y="22.8" font-family="Liberation Sans, Arial, sans-serif" font-weight="bold" font-size="64" fill="#978686" stroke="#978686" stroke-width="1.2" stroke-linejoin="round" textLength="227" lengthAdjust="spacingAndGlyphs">WikiFX</text></g><g transform="translate(106.9 443.1)" opacity="0.2"><rect x="-36" y="-36" width="72" height="72" rx="9" fill="#fbe7a6" transform="rotate(-10)"/><g transform="translate(0.5 0.8)" fill="#927b7b"><path d="M-22.5 -15 A27 27 0 0 1 0.8 -27.5 L3.3 -20.4 Z"/><path d="M2.9 -27.2 A27 27 0 0 1 22.9 -13.8 L18.3 -8.8 L8.3 -15.4 Z"/><path d="M24.7 -11 A27 27 0 0 1 22.1 15.5 Q14 3 24.7 -11 Z"/><path d="M-2.5 19.6 L22.3 13.2 A26.5 26.5 0 0 1 0.8 26.9 Z"/><path d="M-25.8 -9.6 Q-20 -12 -14.2 -12.5 L-5.8 -13.3 Q0 -13 4.2 -11.2 L10 -7.1 L12.9 -3.3 L6.7 -0.8 L0.8 1.7 L-5 4.6 Q-8 9 -7.1 10.4 Q-7.5 14 -5.8 17.1 L-2.5 22.9 L-0.8 27 A27 27 0 0 1 -25.8 -9.6 Z"/></g><path transform="translate(0.5 0.8)" d="M-22.5 7.9 L-17.5 19.6 M-14.2 10.4 L-11.2 22.9" stroke="#fbe7a6" fill="none" stroke-linecap="round" stroke-width="1.3"/><circle cx="-4.5" cy="-4.6" r="1.2" fill="#fbe7a6"/><text transform="rotate(-10)" x="59.5" y="22.8" font-family="Liberation Sans, Arial, sans-serif" font-weight="bold" font-size="64" fill="#978686" stroke="#978686" stroke-width="1.2" stroke-linejoin="round" textLength="227" lengthAdjust="spacingAndGlyphs">WikiFX</text></g><g transform="translate(713.4 443.1)" opacity="0.2"><rect x="-36" y="-36" width="72" height="72" rx="9" fill="#fbe7a6" transform="rotate(-10)"/><g transform="translate(0.5 0.8)" fill="#927b7b"><path d="M-22.5 -15 A27 27 0 0 1 0.8 -27.5 L3.3 -20.4 Z"/><path d="M2.9 -27.2 A27 27 0 0 1 22.9 -13.8 L18.3 -8.8 L8.3 -15.4 Z"/><path d="M24.7 -11 A27 27 0 0 1 22.1 15.5 Q14 3 24.7 -11 Z"/><path d="M-2.5 19.6 L22.3 13.2 A26.5 26.5 0 0 1 0.8 26.9 Z"/><path d="M-25.8 -9.6 Q-20 -12 -14.2 -12.5 L-5.8 -13.3 Q0 -13 4.2 -11.2 L10 -7.1 L12.9 -3.3 L6.7 -0.8 L0.8 1.7 L-5 4.6 Q-8 9 -7.1 10.4 Q-7.5 14 -5.8 17.1 L-2.5 22.9 L-0.8 27 A27 27 0 0 1 -25.8 -9.6 Z"/></g><path transform="translate(0.5 0.8)" d="M-22.5 7.9 L-17.5 19.6 M-14.2 10.4 L-11.2 22.9" stroke="#fbe7a6" fill="none" stroke-linecap="round" stroke-width="1.3"/><circle cx="-4.5" cy="-4.6" r="1.2" fill="#fbe7a6"/><text transform="rotate(-10)" x="59.5" y="22.8" font-family="Liberation Sans, Arial, sans-serif" font-weight="bold" font-size="64" fill="#978686" stroke="#978686" stroke-width="1.2" stroke-linejoin="round" textLength="227" lengthAdjust="spacingAndGlyphs">WikiFX</text></g><g transform="translate(1319.9 443.1)" opacity="0.2"><rect x="-36" y="-36" width="72" height="72" rx="9" fill="#fbe7a6" transform="rotate(-10)"/><g transform="translate(0.5 0.8)" fill="#927b7b"><path d="M-22.5 -15 A27 27 0 0 1 0.8 -27.5 L3.3 -20.4 Z"/><path d="M2.9 -27.2 A27 27 0 0 1 22.9 -13.8 L18.3 -8.8 L8.3 -15.4 Z"/><path d="M24.7 -11 A27 27 0 0 1 22.1 15.5 Q14 3 24.7 -11 Z"/><path d="M-2.5 19.6 L22.3 13.2 A26.5 26.5 0 0 1 0.8 26.9 Z"/><path d="M-25.8 -9.6 Q-20 -12 -14.2 -12.5 L-5.8 -13.3 Q0 -13 4.2 -11.2 L10 -7.1 L12.9 -3.3 L6.7 -0.8 L0.8 1.7 L-5 4.6 Q-8 9 -7.1 10.4 Q-7.5 14 -5.8 17.1 L-2.5 22.9 L-0.8 27 A27 27 0 0 1 -25.8 -9.6 Z"/></g><path transform="translate(0.5 0.8)" d="M-22.5 7.9 L-17.5 19.6 M-14.2 10.4 L-11.2 22.9" stroke="#fbe7a6" fill="none" stroke-linecap="round" stroke-width="1.3"/><circle cx="-4.5" cy="-4.6" r="1.2" fill="#fbe7a6"/><text transform="rotate(-10)" x="59.5" y="22.8" font-family="Liberation Sans, Arial, sans-serif" font-weight="bold" font-size="64" fill="#978686" stroke="#978686" stroke-width="1.2" stroke-linejoin="round" textLength="227" lengthAdjust="spacingAndGlyphs">WikiFX</text></g><g transform="translate(106.9 795.6)" opacity="0.2"><rect x="-36" y="-36" width="72" height="72" rx="9" fill="#fbe7a6" transform="rotate(-10)"/><g transform="translate(0.5 0.8)" fill="#927b7b"><path d="M-22.5 -15 A27 27 0 0 1 0.8 -27.5 L3.3 -20.4 Z"/><path d="M2.9 -27.2 A27 27 0 0 1 22.9 -13.8 L18.3 -8.8 L8.3 -15.4 Z"/><path d="M24.7 -11 A27 27 0 0 1 22.1 15.5 Q14 3 24.7 -11 Z"/><path d="M-2.5 19.6 L22.3 13.2 A26.5 26.5 0 0 1 0.8 26.9 Z"/><path d="M-25.8 -9.6 Q-20 -12 -14.2 -12.5 L-5.8 -13.3 Q0 -13 4.2 -11.2 L10 -7.1 L12.9 -3.3 L6.7 -0.8 L0.8 1.7 L-5 4.6 Q-8 9 -7.1 10.4 Q-7.5 14 -5.8 17.1 L-2.5 22.9 L-0.8 27 A27 27 0 0 1 -25.8 -9.6 Z"/></g><path transform="translate(0.5 0.8)" d="M-22.5 7.9 L-17.5 19.6 M-14.2 10.4 L-11.2 22.9" stroke="#fbe7a6" fill="none" stroke-linecap="round" stroke-width="1.3"/><circle cx="-4.5" cy="-4.6" r="1.2" fill="#fbe7a6"/><text transform="rotate(-10)" x="59.5" y="22.8" font-family="Liberation Sans, Arial, sans-serif" font-weight="bold" font-size="64" fill="#978686" stroke="#978686" stroke-width="1.2" stroke-linejoin="round" textLength="227" lengthAdjust="spacingAndGlyphs">WikiFX</text></g><g transform="translate(713.4 795.6)" opacity="0.2"><rect x="-36" y="-36" width="72" height="72" rx="9" fill="#fbe7a6" transform="rotate(-10)"/><g transform="translate(0.5 0.8)" fill="#927b7b"><path d="M-22.5 -15 A27 27 0 0 1 0.8 -27.5 L3.3 -20.4 Z"/><path d="M2.9 -27.2 A27 27 0 0 1 22.9 -13.8 L18.3 -8.8 L8.3 -15.4 Z"/><path d="M24.7 -11 A27 27 0 0 1 22.1 15.5 Q14 3 24.7 -11 Z"/><path d="M-2.5 19.6 L22.3 13.2 A26.5 26.5 0 0 1 0.8 26.9 Z"/><path d="M-25.8 -9.6 Q-20 -12 -14.2 -12.5 L-5.8 -13.3 Q0 -13 4.2 -11.2 L10 -7.1 L12.9 -3.3 L6.7 -0.8 L0.8 1.7 L-5 4.6 Q-8 9 -7.1 10.4 Q-7.5 14 -5.8 17.1 L-2.5 22.9 L-0.8 27 A27 27 0 0 1 -25.8 -9.6 Z"/></g><path transform="translate(0.5 0.8)" d="M-22.5 7.9 L-17.5 19.6 M-14.2 10.4 L-11.2 22.9" stroke="#fbe7a6" fill="none" stroke-linecap="round" stroke-width="1.3"/><circle cx="-4.5" cy="-4.6" r="1.2" fill="#fbe7a6"/><text transform="rotate(-10)" x="59.5" y="22.8" font-family="Liberation Sans, Arial, sans-serif" font-weight="bold" font-size="64" fill="#978686" stroke="#978686" stroke-width="1.2" stroke-linejoin="round" textLength="227" lengthAdjust="spacingAndGlyphs">WikiFX</text></g><g transform="translate(1319.9 795.6)" opacity="0.2"><rect x="-36" y="-36" width="72" height="72" rx="9" fill="#fbe7a6" transform="rotate(-10)"/><g transform="translate(0.5 0.8)" fill="#927b7b"><path d="M-22.5 -15 A27 27 0 0 1 0.8 -27.5 L3.3 -20.4 Z"/><path d="M2.9 -27.2 A27 27 0 0 1 22.9 -13.8 L18.3 -8.8 L8.3 -15.4 Z"/><path d="M24.7 -11 A27 27 0 0 1 22.1 15.5 Q14 3 24.7 -11 Z"/><path d="M-2.5 19.6 L22.3 13.2 A26.5 26.5 0 0 1 0.8 26.9 Z"/><path d="M-25.8 -9.6 Q-20 -12 -14.2 -12.5 L-5.8 -13.3 Q0 -13 4.2 -11.2 L10 -7.1 L12.9 -3.3 L6.7 -0.8 L0.8 1.7 L-5 4.6 Q-8 9 -7.1 10.4 Q-7.5 14 -5.8 17.1 L-2.5 22.9 L-0.8 27 A27 27 0 0 1 -25.8 -9.6 Z"/></g><path transform="translate(0.5 0.8)" d="M-22.5 7.9 L-17.5 19.6 M-14.2 10.4 L-11.2 22.9" stroke="#fbe7a6" fill="none" stroke-linecap="round" stroke-width="1.3"/><circle cx="-4.5" cy="-4.6" r="1.2" fill="#fbe7a6"/><text transform="rotate(-10)" x="59.5" y="22.8" font-family="Liberation Sans, Arial, sans-serif" font-weight="bold" font-size="64" fill="#978686" stroke="#978686" stroke-width="1.2" stroke-linejoin="round" textLength="227" lengthAdjust="spacingAndGlyphs">WikiFX</text></g>
</svg>
</body></html>
